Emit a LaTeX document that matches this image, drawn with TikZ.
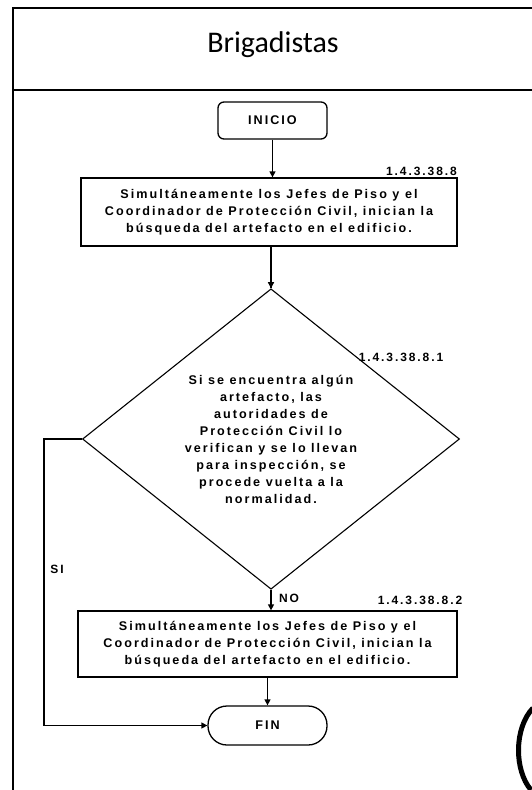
\documentclass[tikz,border=0pt]{standalone}
\usepackage{fontspec}
\setmainfont{Liberation Sans}
\newfontfamily\titlefont{Carlito}
\newfontfamily\boxfont[LetterSpace=16,BoldFont={Liberation Sans Bold}]{Liberation Sans}
\usetikzlibrary{shapes.geometric,arrows.meta}
\begin{document}
\begin{tikzpicture}[x=1pt,y=-1pt,
  frameline/.style={line width=1.4pt},
  boxtxt/.style={font=\boxfont\bfseries\fontsize{12.6pt}{17pt}\selectfont, align=center},
  stepbox/.style={draw, line width=1.3pt, rectangle, inner sep=0pt, boxtxt},
  termbox/.style={draw, line width=1.3pt, inner sep=0pt, boxtxt},
  decbox/.style={draw, line width=1.1pt, diamond, inner sep=0pt, minimum width=377pt, minimum height=297pt, boxtxt},
  lbl/.style={font=\boxfont\bfseries\fontsize{12pt}{13pt}\selectfont, inner sep=0pt},
  conn/.style={line width=1.3pt, -{Triangle[length=6pt,width=6pt]}},
  plain/.style={line width=1.3pt}]
\useasboundingbox (0,0) rectangle (532,790);
% frame
\coordinate (ftl) at (13,8);
\coordinate (fbl) at (13,790);
\coordinate (ftr) at (532,8);
\coordinate (hl) at (13,90);
\coordinate (hr) at (532,90);
\draw[frameline] (fbl) -- (ftl) -- (ftr);
\draw[frameline] (hl) -- (hr);
\node[font=\titlefont\fontsize{30pt}{32pt}\selectfont] (title) at (273,45) {Brigadistas};
% nodes
\node[termbox, rounded corners=6pt, minimum width=109pt, minimum height=37pt] (inicio) at (272.5,120.5) {INICIO};
\node[stepbox, minimum width=376pt, minimum height=68pt] (box1) at (269,212)
  {Simultáneamente los Jefes de Piso y el\\Coordinador de Protección Civil, inician la\\búsqueda del artefacto en el edificio.};
\node[decbox] (dia) at (271,439)
  {Si se encuentra algún\\artefacto, las\\autoridades de\\Protección Civil lo\\verifican y se lo llevan\\para inspección, se\\procede vuelta a la\\normalidad.};
\node[stepbox, minimum width=379pt, minimum height=66pt] (box2) at (267.5,644)
  {Simultáneamente los Jefes de Piso y el\\Coordinador de Protección Civil, inician la\\búsqueda del artefacto en el edificio.};
\node[termbox, rounded corners=19pt, minimum width=119pt, minimum height=39pt] (fin) at (267.5,725.5) {FIN};
% labels
\node[lbl, anchor=east] (l1) at (457,171) {1.4.3.38.8};
\node[lbl] (l2) at (401,357) {1.4.3.38.8.1};
\node[lbl] (l3) at (420,600) {1.4.3.38.8.2};
\node[lbl] (si) at (57,569) {SI};
\node[lbl] (no) at (289,598) {NO};
% connectors
\draw[conn] (inicio.south) -- (inicio.south |- box1.north);
\draw[plain] (box1.south -| dia.north) -- (dia.north);
\draw[conn] ([yshift=-12pt]box1.south -| dia.north) -- (dia.north);
\draw[conn] (dia.south) -- (dia.south |- box2.north);
\draw[conn] (box2.south -| fin.north) -- (fin.north);
\coordinate (sicorner) at (44,439);
\draw[conn] (dia.west) -- (sicorner) |- (fin.west);
% scan mark
\coordinate (m1) at (533,708);
\coordinate (m2) at (531,790);
\draw[line width=5pt] (m1) .. controls (514,728) and (514,770) .. (m2);
\end{tikzpicture}
\end{document}
